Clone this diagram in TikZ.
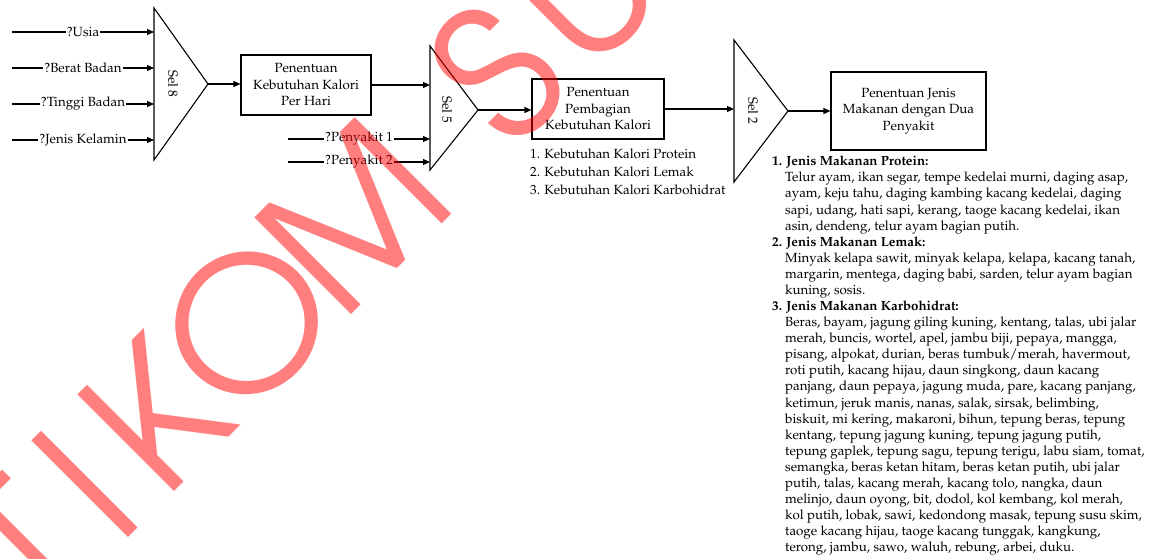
\documentclass[tikz,border=0pt]{standalone}
\usepackage[T1]{fontenc}
\usetikzlibrary{arrows.meta}
\begin{document}
\begin{tikzpicture}[x=1pt,y=-1pt,
  txt/.style={font=\fontfamily{ppl}\fontsize{13.3}{16.5}\selectfont},
  arr/.style={line width=1.1pt,-{Triangle[length=7pt,width=6pt]}},
  box/.style={draw,line width=1.1pt,txt,align=center,inner sep=0pt},
  tri/.style={draw,line width=1.1pt,line join=miter},
  sel/.style={txt,rotate=-90,inner sep=0pt},
  inlbl/.style={txt,fill=white,inner sep=1pt},
  listtxt/.style={font=\fontfamily{ppl}\fontsize{13.3}{18}\selectfont,align=left,inner sep=0pt,anchor=north west},
  coltxt/.style={font=\fontfamily{ppl}\fontsize{13.3}{16.08}\selectfont,align=left,inner sep=0pt,anchor=north west},
  wmark/.style={rotate=45,anchor=base,inner sep=0pt,text=red,text opacity=0.5,font=\fontfamily{pag}\fontsize{185}{185}\selectfont}
  ]
\useasboundingbox (0,0) rectangle (1159,559);
% ---- Sel 8
\coordinate (s8t) at (154,8);
\coordinate (s8b) at (154,160);
\coordinate (s8a) at (208,84);
\draw[tri] (s8t) -- (s8a) -- (s8b) -- cycle;
\node[sel] (s8) at (173,84) {Sel 8};
\coordinate (i1) at (12,32);
\coordinate (i2) at (12,68);
\coordinate (i3) at (12,104);
\coordinate (i4) at (12,140);
\draw[arr] (i1) -- (i1 -| s8t) node[midway,inlbl] (l1) {?Usia};
\draw[arr] (i2) -- (i2 -| s8t) node[midway,inlbl] (l2) {?Berat Badan};
\draw[arr] (i3) -- (i3 -| s8t) node[midway,inlbl] (l3) {?Tinggi Badan};
\draw[arr] (i4) -- (i4 -| s8t) node[midway,inlbl] (l4) {?Jenis Kelamin};
% ---- Box 1
\node[box,minimum width=130pt,minimum height=60pt] (b1) at (306,85) {Penentuan\\Kebutuhan Kalori\\Per Hari};
\draw[arr] (s8a) -- (s8a -| b1.west);
% ---- Sel 5
\coordinate (s5t) at (430,46);
\coordinate (s5b) at (430,170);
\coordinate (s5a) at (478,110);
\draw[tri] (s5t) -- (s5a) -- (s5b) -- cycle;
\node[sel] (s5) at (447,110) {Sel 5};
\draw[arr] (b1.east) -- (b1.east -| s5t);
\coordinate (p1) at (288,139);
\coordinate (p2) at (288,162);
\draw[arr] (p1) -- (p1 -| s5t) node[midway,inlbl] (lp1) {?Penyakit 1};
\draw[arr] (p2) -- (p2 -| s5t) node[midway,inlbl] (lp2) {?Penyakit 2};
% ---- Box 2
\node[box,minimum width=132pt,minimum height=60pt] (b2) at (598,109) {Penentuan\\Pembagian\\Kebutuhan Kalori};
\draw[arr] (s5a) -- (s5a -| b2.west);
\node[listtxt] (lst) at (530,149) {1. Kebutuhan Kalori Protein\\2. Kebutuhan Kalori Lemak\\3. Kebutuhan Kalori Karbohidrat};
% ---- Sel 2
\coordinate (s2t) at (734,40);
\coordinate (s2b) at (734,182);
\coordinate (s2a) at (788,111);
\draw[tri] (s2t) -- (s2a) -- (s2b) -- cycle;
\draw[arr] (b2.east) -- (b2.east -| s2t);
\node[sel] (s2) at (753,111) {Sel 2};
% ---- Box 3
\node[box,minimum width=155pt,minimum height=78pt] (b3) at (908.5,111) {Penentuan Jenis\\Makanan dengan Dua\\Penyakit};
\draw[arr] (s2a) -- (s2a -| b3.west);
% ---- right column
\node[coltxt] (col) at (772,156) {%
\textbf{1. Jenis Makanan Protein:}\\
\hspace*{13pt}Telur ayam, ikan segar, tempe kedelai murni, daging asap,\\
\hspace*{13pt}ayam, keju tahu, daging kambing kacang kedelai, daging\\
\hspace*{13pt}sapi, udang, hati sapi, kerang, taoge kacang kedelai, ikan\\
\hspace*{13pt}asin, dendeng, telur ayam bagian putih.\\
\textbf{2. Jenis Makanan Lemak:}\\
\hspace*{13pt}Minyak kelapa sawit, minyak kelapa, kelapa, kacang tanah,\\
\hspace*{13pt}margarin, mentega, daging babi, sarden, telur ayam bagian\\
\hspace*{13pt}kuning, sosis.\\
\textbf{3. Jenis Makanan Karbohidrat:}\\
\hspace*{13pt}Beras, bayam, jagung giling kuning, kentang, talas, ubi jalar\\
\hspace*{13pt}merah, buncis, wortel, apel, jambu biji, pepaya, mangga,\\
\hspace*{13pt}pisang, alpokat, durian, beras tumbuk/merah, havermout,\\
\hspace*{13pt}roti putih, kacang hijau, daun singkong, daun kacang\\
\hspace*{13pt}panjang, daun pepaya, jagung muda, pare, kacang panjang,\\
\hspace*{13pt}ketimun, jeruk manis, nanas, salak, sirsak, belimbing,\\
\hspace*{13pt}biskuit, mi kering, makaroni, bihun, tepung beras, tepung\\
\hspace*{13pt}kentang, tepung jagung kuning, tepung jagung putih,\\
\hspace*{13pt}tepung gaplek, tepung sagu, tepung terigu, labu siam, tomat,\\
\hspace*{13pt}semangka, beras ketan hitam, beras ketan putih, ubi jalar\\
\hspace*{13pt}putih, talas, kacang merah, kacang tolo, nangka, daun\\
\hspace*{13pt}melinjo, daun oyong, bit, dodol, kol kembang, kol merah,\\
\hspace*{13pt}kol putih, lobak, sawi, kedondong masak, tepung susu skim,\\
\hspace*{13pt}taoge kacang hijau, taoge kacang tunggak, kangkung,\\
\hspace*{13pt}terong, jambu, sawo, waluh, rebung, arbei, duku.};
% ---- watermark (letters placed along a 45 degree baseline)
\begin{scope}
\clip (0,0) rectangle (1159,559);
\node[wmark] (wT) at (72.1,594.0) {T};
\node[wmark] (wI) at (132.9,533.0) {I};
\node[wmark] (wK) at (202.9,463.2) {K};
\node[wmark] (wO) at (294.9,371.2) {O};
\node[wmark] (wM) at (401.6,264.4) {M};
\node[wmark] (wS) at (545.1,120.9) {S};
\node[wmark] (wU) at (630.0,36.1) {U};
\end{scope}
\end{tikzpicture}
\end{document}
